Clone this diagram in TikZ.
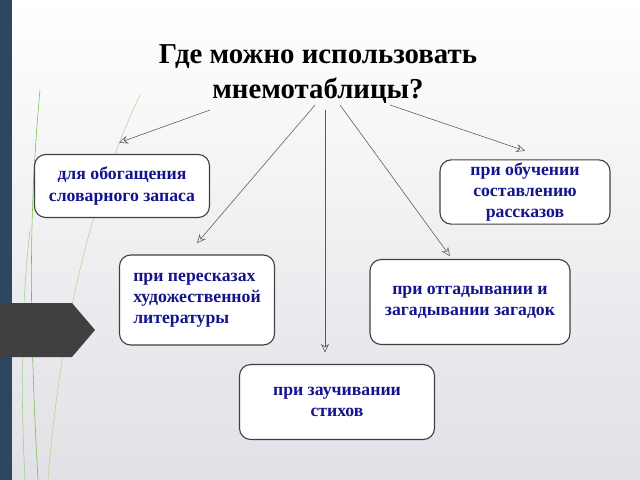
\documentclass[tikz,border=0pt]{standalone}
\usepackage{fontspec}
\setmainfont{Liberation Serif}
\usetikzlibrary{arrows.meta, positioning}
\definecolor{strip}{RGB}{44,72,96}
\definecolor{boxtext}{RGB}{20,20,140}
\definecolor{leaf}{RGB}{120,190,70}
\tikzset{
  topic/.style={rectangle, rounded corners=8pt, draw=black!75, thick, fill=white, text=boxtext, font=\bfseries\fontsize{12.6}{15}\selectfont, align=center, inner sep=2pt},
  arrow/.style={gray!70!black, -{Stealth[length=2.2mm,width=2.0mm,open]}}
}
\begin{document}
\begin{tikzpicture}[x=0.025cm, y=-0.025cm]
    % slide background
    \shade[top color=white, bottom color=blue!10!gray!22] (0,0) rectangle (640,480);
    \useasboundingbox (0,0) rectangle (640,480);
    \fill[strip] (0,0) rectangle (12,480);
    \draw[leaf, thin] (38,480) .. controls (28,300) and (30,200) .. (40,90);
    \draw[leaf!60, thin] (48,480) .. controls (60,330) and (90,200) .. (140,95);
    \draw[leaf!70, thin] (25,480) .. controls (20,380) and (22,300) .. (30,230);
    \fill[black!75] (0,303) -- (72,303) -- (95,330) -- (72,357) -- (0,357) -- cycle;

    \node (title) at (318,74) {\bfseries\fontsize{20.5}{25}\selectfont\begin{tabular}{c}Где можно использовать\\мнемотаблицы?\end{tabular}};

    \node (enrich) [topic, minimum width=175*0.025cm, minimum height=63*0.025cm] at (122,186) {для обогащения\\словарного запаса};
    \node (story) [topic, minimum width=170*0.025cm, minimum height=63*0.025cm] at (525,192) {при обучении\\составлению\\рассказов};
    \node (retell) [topic, minimum width=155*0.025cm, minimum height=90*0.025cm, align=left] at (197,300) {при пересказах\\художественной\\литературы};
    \node (riddle) [topic, minimum width=200*0.025cm, minimum height=85*0.025cm] at (470,302) {при отгадывании и\\загадывании загадок};
    \node (poem) [topic, minimum width=195*0.025cm, minimum height=75*0.025cm] at (337,402) {при заучивании\\стихов};

    % arrows from the title
    \coordinate (s1) at (210,110);
    \coordinate (s2) at (315,105);
    \coordinate (s3) at (325,110);
    \coordinate (s4) at (340,105);
    \coordinate (s5) at (390,105);
    \draw[arrow] (s1) -- ([xshift=-2pt,yshift=8pt]enrich.north);
    \draw[arrow] (s2) -- ([yshift=8pt]retell.north);
    \draw[arrow] (s3) -- ([xshift=-12*0.025cm,yshift=8pt]poem.north);
    \draw[arrow] (s4) -- ([xshift=-20*0.025cm,yshift=2pt]riddle.north);
    \draw[arrow] (s5) -- ([yshift=6pt]story.north);
\end{tikzpicture}
\end{document}
